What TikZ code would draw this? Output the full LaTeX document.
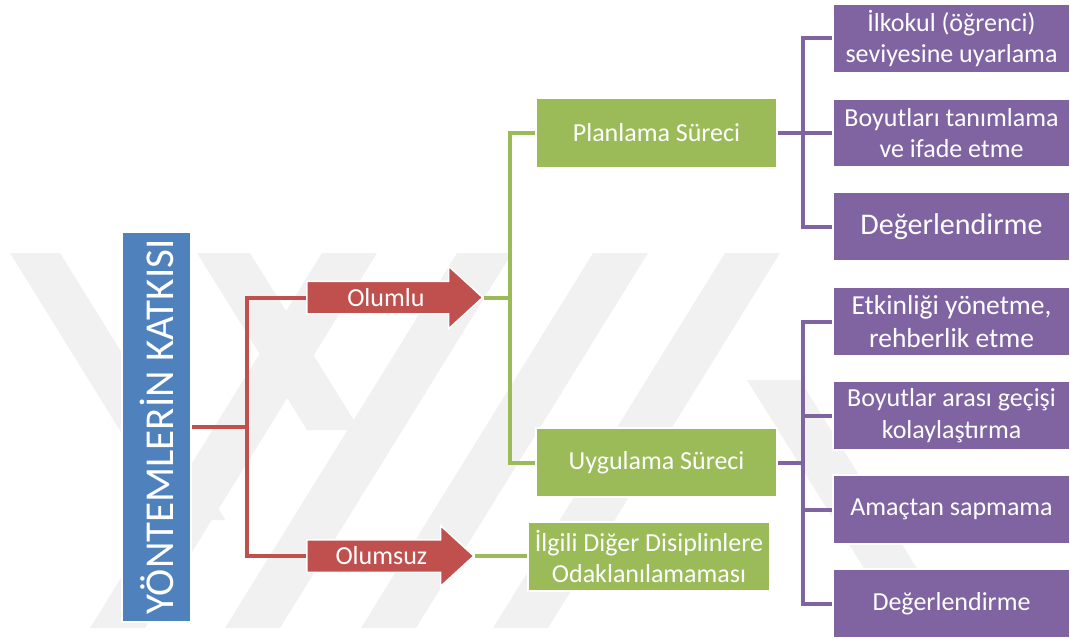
\documentclass[tikz,border=0pt]{standalone}
\usepackage{fontspec}
\setmainfont{Carlito}
\usetikzlibrary{shapes.arrows}

\definecolor{titleblue}{HTML}{4F81BD}
\definecolor{accred}{HTML}{C0504D}
\definecolor{accgreen}{HTML}{9BBB59}
\definecolor{accpurple}{HTML}{8064A2}
\definecolor{wmgray}{HTML}{F1F1F1}

\begin{document}
\begin{tikzpicture}[x=1pt,y=-1pt,
  labelfont/.style={font=\fontsize{26}{31.5}\selectfont},
  box/.style={rectangle, draw=white, line width=1.5pt, text=white, align=center,
    inner sep=0pt, labelfont},
  greenbox/.style={box, fill=accgreen, minimum width=241pt, minimum height=70pt},
  purplebox/.style={box, fill=accpurple, minimum width=237pt, minimum height=69pt},
  signarrow/.style={single arrow, fill=accred, draw=white, line width=1.5pt,
    text=white, labelfont, single arrow head extend=15pt,
    single arrow tip angle=85, inner xsep=4pt, inner ysep=3.5pt,
    text height=20.5pt, text depth=3.5pt, anchor=tail},
  redline/.style={draw=accred, line width=4pt},
  greenline/.style={draw=accgreen, line width=4pt},
  purpleline/.style={draw=accpurple, line width=4pt},
]
\useasboundingbox (0,0) rectangle (1070,639);

% faint background emblem: diagonal bands
\begin{scope}
  \clip (0,253) rectangle (1070,628);
  \fill[wmgray] (10,253) -- (60,253) -- (225.5,520) -- (175.5,520) -- cycle;
  \fill[wmgray] (197,253) -- (250,253) -- (360,430) -- (307,430) -- cycle;
  \fill[wmgray] (747,380) -- (800,380) -- (954,628) -- (901,628) -- cycle;
  \foreach \b in {90,225,361,493}
    \fill[wmgray] (\b,628) -- (\b+55,628) -- (\b+287,253) -- (\b+232,253) -- cycle;
\end{scope}

% title bar
\node[fill=titleblue, draw=white, line width=1.5pt, rotate=90,
      minimum width=390pt, minimum height=69pt, inner sep=0pt,
      text=white, font=\fontsize{41}{41}\selectfont] (title) at (156.5,427)
      {YÖNTEMLERİN KATKISI};

% first level: positive / negative
\node[signarrow, minimum height=176pt] (olumlu) at (306,297.5) {Olumlu};
\node[signarrow, minimum height=167pt, single arrow head extend=14pt] (olumsuz) at (306,556) {Olumsuz};

% second level
\node[greenbox] (planlama) at (656.5,133) {Planlama Süreci};
\node[greenbox, minimum height=69pt] (uygulama) at (656.5,462.5) {Uygulama Süreci};
\node[greenbox, minimum width=242pt, minimum height=69pt] (ilgili) at (649,556.5)
  {İlgili Diğer Disiplinlere\\Odaklanılamaması};

% third level: planning
\node[purplebox] (p1) at (951.5,38.5) {İlkokul (öğrenci)\\seviyesine uyarlama};
\node[purplebox, minimum height=68pt] (p2) at (951.5,133) {Boyutları tanımlama\\ve ifade etme};
\node[purplebox, font=\fontsize{30}{36}\selectfont] (p3) at (951.5,226.5) {Değerlendirme};

% third level: application
\node[purplebox, font=\fontsize{27.5}{33}\selectfont] (u1) at (951.5,321.5) {Etkinliği yönetme,\\rehberlik etme};
\node[purplebox] (u2) at (951.5,415.5) {Boyutlar arası geçişi\\kolaylaştırma};
\node[purplebox] (u3) at (951.5,509.5) {Amaçtan sapmama};
\node[purplebox] (u4) at (951.5,603.5) {Değerlendirme};

% connectors
\coordinate (rj) at (247,427);
\coordinate (gj) at (510,297.5);
\coordinate (pj1) at (803,133);
\coordinate (pj2) at (803,462.5);

\draw[redline] (title.south) -- (rj);
\draw[redline] (olumlu.tail) -| (rj) |- (olumsuz.tail);

\draw[greenline] (olumlu.tip) -- (gj);
\draw[greenline] (planlama.west) -| (gj) |- (uygulama.west);
\draw[greenline] (olumsuz.tip) -- (olumsuz.tip -| ilgili.west);

\draw[purpleline] (planlama.east) -- (pj1);
\draw[purpleline] (p1.west) -| (pj1) |- (p3.west);
\draw[purpleline] (pj1) -- (p2.west);

\draw[purpleline] (uygulama.east) -- (pj2);
\draw[purpleline] (u1.west) -| (pj2) |- (u4.west);
\draw[purpleline] (u2.west) -- (u2.west -| pj2);
\draw[purpleline] (u3.west) -- (u3.west -| pj2);
\end{tikzpicture}
\end{document}
